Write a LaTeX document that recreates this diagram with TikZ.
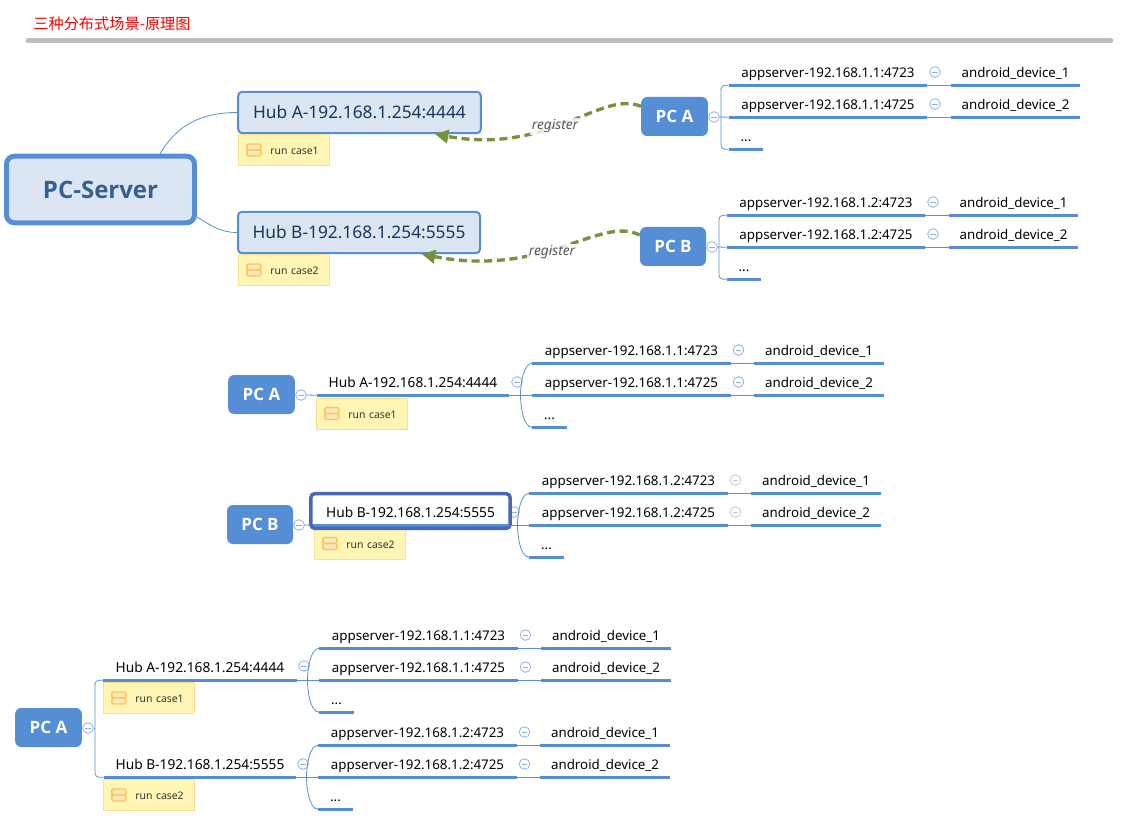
\documentclass[tikz,border=0pt]{standalone}
\usepackage{fontspec}
\setmainfont{Noto Sans}
\newfontfamily\cjkfont{Noto Sans CJK SC}
\newfontfamily\heavyfont{Open Sans}
\usepackage{xcolor}
\usepackage{tikz}
\usetikzlibrary{arrows.meta,positioning,calc}

\definecolor{mapblue}{HTML}{558ED5}
\definecolor{hubfill}{HTML}{DCE6F2}
\definecolor{hubtext}{HTML}{17375E}
\definecolor{srvtext}{HTML}{376092}
\definecolor{regolive}{HTML}{76923C}
\definecolor{notefill}{HTML}{FFF6B5}
\definecolor{noteedge}{HTML}{F9E08F}
\definecolor{iconedge}{HTML}{F9C55A}
\definecolor{iconfill}{HTML}{FDE6B8}
\definecolor{togedge}{HTML}{8FB0E0}
\definecolor{selblue}{HTML}{4A66B8}

\begin{document}
\begin{tikzpicture}[
  x=0.75pt, y=-0.75pt,
  link/.style={mapblue, line width=0.6pt},
  uline/.style={mapblue, line width=2.25pt},
  topic/.style={font=\fontsize{10pt}{12pt}\selectfont, minimum height=19.5pt, inner sep=0pt, text height=10.5pt, text depth=2pt},
  pcbox/.style={draw=none, fill=mapblue, rounded corners=4.5pt, text=white, font=\fontsize{12.75pt}{15pt}\selectfont\heavyfont\bfseries, minimum width=50pt, minimum height=29.25pt, inner sep=0pt},
  hubbox/.style={draw=mapblue, fill=hubfill, line width=1.5pt, rounded corners=3pt, text=hubtext, font=\fontsize{13pt}{15pt}\selectfont, minimum height=31pt, inner sep=0pt},
  srvbox/.style={draw=mapblue, fill=hubfill, line width=3.75pt, rounded corners=6pt, text=srvtext, font=\fontsize{18pt}{22pt}\selectfont\heavyfont\bfseries, minimum width=141pt, minimum height=50pt, inner sep=0pt},
  selbox/.style={draw=selblue, line width=2.6pt, rounded corners=3pt, minimum width=149.5pt, minimum height=26pt, inner sep=0pt},
  runnote/.style={draw=noteedge, fill=notefill, line width=0.75pt, font=\fontsize{7.8pt}{10pt}\selectfont, text=black!80, text width=52pt, text height=7pt, align=right, inner xsep=8.25pt, inner ysep=0pt, minimum height=23.25pt},
  noteicon/.style={draw=iconedge, fill=iconfill, line width=1pt, rounded corners=1pt},
  toggle/.style={circle, draw=togedge, fill=white, line width=0.6pt, minimum size=8pt, inner sep=0pt,
    path picture={\draw[togedge, line width=0.6pt] ([xshift=2pt]path picture bounding box.west) -- ([xshift=-2pt]path picture bounding box.east);}},
  regarr/.style={-{Triangle[length=10pt,width=10pt]}, regolive, line width=2.5pt, dash pattern=on 6pt off 3.5pt},
  reglbl/.style={font=\fontsize{10.3pt}{12pt}\selectfont\itshape, text=black!65, fill=white, fill opacity=0.8, text opacity=1, inner sep=1pt},
  titlelbl/.style={font=\fontsize{11.4pt}{13pt}\selectfont\cjkfont, text=red, inner sep=0pt},
]
  \useasboundingbox (0,0) rectangle (1136,838);

  \def\hubfont{\fontsize{10.3pt}{12pt}\selectfont}
  % name, centre x, line y, width, text
  \def\topicat#1#2#3#4#5{
    \node[topic, minimum width=#4*0.75pt] (#1) at (#2,#3-13) {#5};
    \draw[uline] (#1.south west) -- (#1.south east);
  }
  % name, x, y, text
  \def\noteat#1#2#3#4{
    \node[runnote] (#1) at (#2,#3) {#4};
    \draw[noteicon] ($(#1.west)+(9,-6)$) rectangle ($(#1.west)+(23,0)$);
    \draw[noteicon] ($(#1.west)+(9,0)$) rectangle ($(#1.west)+(23,6)$);
  }
  % name, x, y, ip ending, start of the middle link
  \def\applist#1#2#3#4#5{
    \foreach \row/\port/\off in {1/4723/-32, 2/4725/0} {
      \topicat{#1-s\row}{#2+99}{#3+\off}{198}{appserver-192.168.1.#4:\port}
      \topicat{#1-d\row}{#2+286.5}{#3+\off}{129}{android\_device\_\row}
      \node[toggle] (#1-t\row) at (#2+206,#3+\off-13) {};
    }
    \topicat{#1-s3}{#2+17}{#3+32}{34}{...}
    \draw[link] (#1-s1.south east) -- (#1-d1.south west);
    \draw[link] (#1-s2.south east) -- (#1-d2.south west);
    \draw[link] (#5) -- (#1-s2.south west);
  }
  \def\squarefan#1#2#3{
    \coordinate (#1-bar) at (#2-8,#3);
    \draw[link, rounded corners=3pt] (#1-s1.south west) -| (#1-bar) |- (#1-s3.south west);
  }
  \def\curvefan#1#2#3{
    \coordinate (#1-bar) at (#2-12,#3);
    \draw[link] (#1-s1.south west) to[out=180, in=90, looseness=0.7] (#1-bar);
    \draw[link] (#1-s3.south west) to[out=180, in=-90, looseness=0.7] (#1-bar);
  }

  % Title
  \node[titlelbl] (title) at (112,24) {三种分布式场景-原理图};
  \draw[draw=black!25, line width=3.75pt, line cap=round] (28,41) -- (1111,41);

  % Scene 1: server with two hubs
  \node[srvbox] (server) at (100.5,189.5) {PC-Server};
  \node[hubbox, minimum width=182pt] (hubA) at (359.5,112.5) {Hub A-192.168.1.254:4444};
  \node[hubbox, minimum width=181.5pt] (hubB) at (359,232.5) {Hub B-192.168.1.254:5555};
  \noteat{noteA}{284}{150}{run case1}
  \noteat{noteB}{284}{270}{run case2}
  \draw[link] (server.31) to[out=60, in=180] (hubA.west);
  \draw[link] (server.-16) to[out=-30, in=180] (hubB.west);

  \node[pcbox] (pcA) at (674.5,116.5) {PC A};
  \node[toggle] (pcA-t) at (714,117) {};
  \applist{sa}{729}{117}{1}{pcA-t.east}
  \squarefan{sa}{729}{117}

  \node[pcbox, minimum width=49.5pt] (pcB) at (673,246.5) {PC B};
  \node[toggle] (pcB-t) at (712,247) {};
  \applist{sb}{727}{247}{2}{pcB-t.east}
  \squarefan{sb}{727}{247}

  \draw[regarr] (pcA.163) .. controls (600,90) and (550,155) .. (hubA.-16.6);
  \node[reglbl] (regA) at (555,126.5) {register};
  \draw[regarr] (pcB.161) .. controls (600,215) and (545,278) .. (hubB.-19);
  \node[reglbl] (regB) at (552,252.5) {register};

  % Scene 2: one hub per machine
  \node[pcbox] (pcC) at (261.5,394.5) {PC A};
  \node[toggle] (pcC-t) at (301,395) {};
  \topicat{hubC}{413}{395}{192}{\hubfont Hub A-192.168.1.254:4444}
  \draw[link] (pcC-t.east) -- (hubC.south west);
  \node[toggle] (hubC-t) at (517,382) {};
  \noteat{noteC}{362}{413.5}{run case1}
  \applist{sc}{532.5}{395}{1}{hubC.south east}
  \curvefan{sc}{532.5}{395}

  \node[pcbox, minimum width=49.5pt] (pcD) at (260,524.5) {PC B};
  \node[toggle] (pcD-t) at (299,525) {};
  \topicat{hubD}{410.5}{525}{195}{\hubfont Hub B-192.168.1.254:5555}
  \draw[link] (pcD-t.east) -- (hubD.south west);
  \node[toggle] (hubD-t) at (514,512) {};
  \noteat{noteD}{360}{543.5}{run case2}
  \node[selbox] (selD) at (410.5,511) {};
  \begin{scope}
    \colorlet{togedge}{black!22}
    \applist{sd}{529.5}{525}{2}{hubD.south east}
  \end{scope}
  \curvefan{sd}{529.5}{525}

  % Scene 3: two hubs on one machine
  \node[pcbox] (pcE) at (48.5,727.5) {PC A};
  \node[toggle] (pcE-t) at (88,728) {};
  \topicat{hubE}{200}{680}{193}{\hubfont Hub A-192.168.1.254:4444}
  \topicat{hubF}{200}{777}{192}{\hubfont Hub B-192.168.1.254:5555}
  \coordinate (pcE-bar) at (95,728);
  \draw[link, rounded corners=3pt] (hubE.south west) -| (pcE-bar) |- (hubF.south west);
  \draw[link] (pcE-t.east) -- (pcE-bar);
  \node[toggle] (hubE-t) at (304,666) {};
  \node[toggle] (hubF-t) at (303,764) {};
  \noteat{noteE}{149}{698}{run case1}
  \noteat{noteF}{149}{795}{run case2}
  \applist{se}{319.5}{680}{1}{hubE.south east}
  \curvefan{se}{319.5}{680}
  \applist{sf}{318.5}{777}{2}{hubF.south east}
  \curvefan{sf}{318.5}{777}
\end{tikzpicture}
\end{document}
